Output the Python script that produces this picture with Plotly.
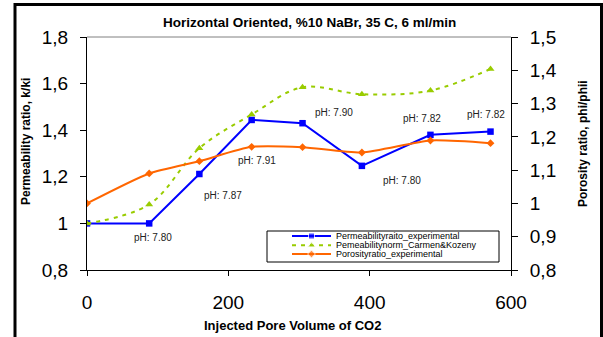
import plotly.graph_objects as go

# ---------------- data ----------------
x_pv = [0, 88, 159, 233, 305, 389, 486, 571]
perm_exp = [1.0, 1.0, 1.212, 1.444, 1.430, 1.247, 1.380, 1.394]
perm_ck = [0.940, 0.997, 1.166, 1.267, 1.349, 1.328, 1.339, 1.404]
poro_exp = [1.0, 1.090, 1.127, 1.170, 1.169, 1.153, 1.189, 1.181]

ph_text = ["pH: 7.80", "pH: 7.87", "pH: 7.91", "pH: 7.90", "pH: 7.80", "pH: 7.82", "pH: 7.82"]
ph_x = [94, 192, 241, 349, 446, 474, 564]
ph_y = [0.939, 1.118, 1.271, 1.476, 1.185, 1.451, 1.469]

series_names = ["Permeabilityraito_experimental",
                "Pemeabilitynorm_Carmen&Kozeny",
                "Porosityratio_experimental"]
title_text = "Horizontal Oriented, %10 NaBr, 35 C, 6 ml/min"
x_title = "Injected Pore Volume of CO2"
y_title = "Permeability ratio, k/ki"
y2_title = "Porosity ratio, phi/phii"

# ---------------- styles ----------------
W, H = 603, 337
ML, MR, MT, MB = 87, 92, 37, 67
PW, PH = W - ML - MR, H - MT - MB
FONT = "Liberation Sans, Arial, sans-serif"
BLUE, GREEN, ORANGE = "#0000FF", "#99CC00", "#FF6600"


def px_x(px):
    return (px - ML) / PW


def px_y(py):
    return (H - MB - py) / PH


fig = go.Figure()

fig.add_trace(go.Scatter(x=x_pv, y=perm_exp, mode="lines+markers", name=series_names[0],
                         line=dict(color=BLUE, width=2),
                         marker=dict(symbol="square", size=6.5, color=BLUE),
                         xaxis="x", yaxis="y", showlegend=False))
fig.add_trace(go.Scatter(x=x_pv, y=perm_ck, mode="lines+markers", name=series_names[1],
                         line=dict(color=GREEN, width=2, dash="4px,5px", shape="spline", smoothing=1),
                         marker=dict(symbol="triangle-up", size=7, color=GREEN),
                         xaxis="x", yaxis="y2", showlegend=False))
fig.add_trace(go.Scatter(x=x_pv, y=poro_exp, mode="lines+markers", name=series_names[2],
                         line=dict(color=ORANGE, width=2, shape="spline", smoothing=0.6),
                         marker=dict(symbol="diamond", size=6, color=ORANGE),
                         xaxis="x", yaxis="y2", showlegend=False))

# ---------------- custom compact legend on its own small axis ----------------
lg_x0, lg_x1, lg_y0, lg_y1 = 267, 499, 231, 262
lg_w, lg_h = lg_x1 - lg_x0, lg_y1 - lg_y0
row_y = [lg_h - 5, lg_h - 14.3, lg_h - 23]
styles = [
    (BLUE, "solid", "square", 6),
    (GREEN, "4px,5px", "triangle-up", 7),
    (ORANGE, "solid", "diamond", 6),
]
for i, (col, dash, sym, sz) in enumerate(styles):
    fig.add_trace(go.Scatter(x=[25, 44.5, 64], y=[row_y[i]] * 3, mode="lines+markers",
                             line=dict(color=col, width=2, dash=dash),
                             marker=dict(symbol=sym, size=[0, sz, 0], color=col),
                             xaxis="x3", yaxis="y3", showlegend=False, hoverinfo="skip"))

annotations = []
for i, name in enumerate(series_names):
    annotations.append(dict(x=66.5, y=row_y[i], xref="x3", yref="y3", text=name,
                            showarrow=False, xanchor="left", yanchor="middle",
                            font=dict(family=FONT, size=9, color="#000000")))

for t, xx, yy in zip(ph_text, ph_x, ph_y):
    annotations.append(dict(x=xx, y=yy, xref="x", yref="y", text=t, showarrow=False,
                            xanchor="center", yanchor="middle",
                            font=dict(family=FONT, size=10, color="#222222")))

annotations += [
    dict(x=px_x(26), y=px_y(142), xref="paper", yref="paper", text=y_title, textangle=-90,
         showarrow=False, xanchor="center", yanchor="middle",
         font=dict(family=FONT, size=12, color="#000000", weight="bold")),
    dict(x=px_x(583), y=px_y(144), xref="paper", yref="paper", text=y2_title, textangle=-90,
         showarrow=False, xanchor="center", yanchor="middle",
         font=dict(family=FONT, size=12, color="#000000", weight="bold")),
    dict(x=px_x(292), y=px_y(325), xref="paper", yref="paper", text=x_title,
         showarrow=False, xanchor="center", yanchor="middle",
         font=dict(family=FONT, size=13, color="#000000", weight="bold")),
    dict(x=px_x(309), y=px_y(23), xref="paper", yref="paper", text=title_text,
         showarrow=False, xanchor="center", yanchor="middle",
         font=dict(family=FONT, size=13.5, color="#000000", weight="bold")),
]

shapes = [
    # gray top border of plot area
    dict(type="line", xref="paper", yref="paper", x0=0, x1=1, y0=1, y1=1,
         line=dict(color="#808080", width=1)),
    # legend box
    dict(type="rect", xref="x3 domain", yref="y3 domain", x0=0, x1=1, y0=0, y1=1,
         line=dict(color="#000000", width=1), fillcolor="rgba(0,0,0,0)"),
    # outer frame of the chart
    dict(type="rect", xref="paper", yref="paper", x0=px_x(15), x1=px_x(601.5),
         y0=px_y(350), y1=px_y(4.5), line=dict(color="#000000", width=3),
         fillcolor="rgba(0,0,0,0)", layer="above"),
]

tickfont = dict(family=FONT, size=19, color="#000000")

fig.update_layout(
    width=W, height=H,
    margin=dict(l=ML, r=MR, t=MT, b=MB),
    paper_bgcolor="white", plot_bgcolor="white",
    separators=", ",
    showlegend=False,
    annotations=annotations,
    shapes=shapes,
    xaxis=dict(range=[0, 600], tickvals=[0, 200, 400, 600], showgrid=False, zeroline=False,
               showline=True, linecolor="#000000", linewidth=1,
               ticks="outside", ticklen=5, tickcolor="#000000",
               tickfont=tickfont, ticklabelstandoff=10),
    yaxis=dict(range=[0.8, 1.8], tickvals=[0.8, 1.0, 1.2, 1.4, 1.6, 1.8], showgrid=False,
               zeroline=False, showline=True, linecolor="#000000", linewidth=1,
               ticks="outside", ticklen=6, tickcolor="#000000",
               tickfont=tickfont, ticklabelstandoff=8),
    yaxis2=dict(range=[0.8, 1.5], tickvals=[0.8, 0.9, 1.0, 1.1, 1.2, 1.3, 1.4, 1.5],
                overlaying="y", side="right", anchor="x", showgrid=False, zeroline=False,
                showline=True, linecolor="#000000", linewidth=1,
                ticks="outside", ticklen=6, tickcolor="#000000",
                tickfont=tickfont, ticklabelstandoff=8),
    yaxis4=dict(range=[0.8, 1.5], tickvals=[0.8, 0.9, 1.0, 1.1, 1.2, 1.3, 1.4, 1.5],
                overlaying="y", side="right", anchor="x", showgrid=False, zeroline=False,
                showline=False, ticks="inside", ticklen=6, tickcolor="#000000",
                showticklabels=False),
    xaxis3=dict(domain=[px_x(lg_x0), px_x(lg_x1)], range=[0, lg_w], anchor="y3",
                visible=False, fixedrange=True),
    yaxis3=dict(domain=[px_y(lg_y1), px_y(lg_y0)], range=[0, lg_h], anchor="x3",
                visible=False, fixedrange=True),
)

fig.write_html("out.html")
